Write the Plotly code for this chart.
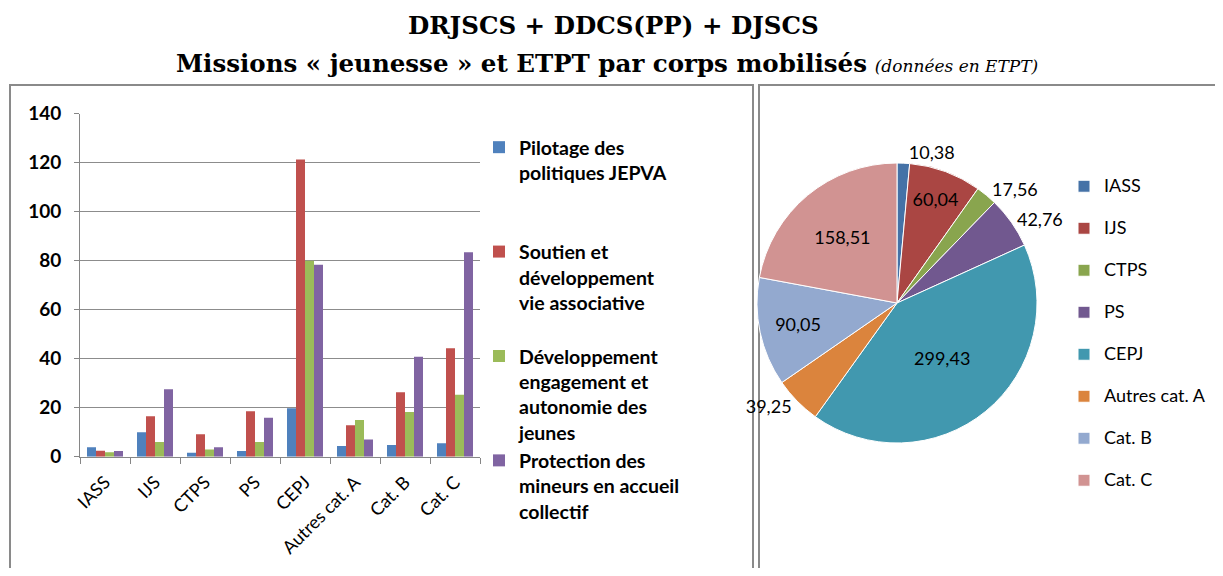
import plotly.graph_objects as go

# The page body has an 8px default margin: the figure is sized so that it
# fits the 1223x576 window without scrollbars, and positions are given in
# window pixels through px_x / px_y.
OFF = 8
W, H = 1223 - 2 * OFF, 576 - 2 * OFF

categories = ["IASS", "IJS", "CTPS", "PS", "CEPJ", "Autres cat. A", "Cat. B", "Cat. C"]
series_names = [
    "Pilotage des<br>politiques JEPVA",
    "Soutien et<br>développement<br>vie associative",
    "Développement<br>engagement et<br>autonomie des<br>jeunes",
    "Protection des<br>mineurs en accueil<br>collectif",
]
pilotage = [3.9, 10.0, 1.6, 2.3, 19.8, 4.4, 4.8, 5.5]
soutien = [2.4, 16.5, 9.2, 18.6, 121.3, 12.8, 26.3, 44.3]
developpement = [1.8, 6.0, 2.9, 6.0, 80.0, 15.0, 18.2, 25.3]
protection = [2.28, 27.54, 3.86, 15.86, 78.33, 7.05, 40.75, 83.41]
pie_values = [10.38, 60.04, 17.56, 42.76, 299.43, 39.25, 90.05, 158.51]
y_ticks = [0, 20, 40, 60, 80, 100, 120, 140]

bar_colors = ["#4F81BD", "#C0504D", "#9BBB59", "#8064A2"]
pie_colors = ["#4572A7", "#AA4643", "#89A54E", "#71588F", "#4198AF", "#DB843D", "#93A9CF", "#D19392"]
pie_textpos = ["outside", "inside", "outside", "outside", "inside", "outside", "inside", "inside"]


def px_x(v):
    return (v - OFF) / W


def px_y(v):
    return 1 - (v - OFF) / H


def border(x0, y0, x1, y1):
    return dict(type="line", xref="paper", yref="paper",
                x0=px_x(x0), y0=px_y(y0), x1=px_x(x1), y1=px_y(y1),
                line=dict(color="#8A8A8A", width=2), layer="below")


fig = go.Figure()

series = [pilotage, soutien, developpement, protection]
for i, (name, vals) in enumerate(zip(series_names, series)):
    lines = name.count("<br>") + 1
    padded = name + "<br> " * (4 - lines)
    fig.add_trace(go.Bar(
        x=categories, y=vals, name=padded,
        marker=dict(color=bar_colors[i], line=dict(width=0)),
        legend="legend",
        hoverinfo="x+y",
    ))

pie_legend_labels = ["<span style='font-size:18px'>" + c + "</span><br> " for c in categories]

fig.add_trace(go.Pie(
    labels=pie_legend_labels,
    values=pie_values,
    sort=False,
    direction="clockwise",
    rotation=0,
    marker=dict(colors=pie_colors, line=dict(color="white", width=1)),
    texttemplate="%{value:.2f}",
    textposition=pie_textpos,
    insidetextorientation="horizontal",
    textfont=dict(family="Lato", size=18, color="black"),
    domain=dict(x=[px_x(757), px_x(1037)], y=[px_y(444), px_y(162)]),
    legend="legend2",
    showlegend=True,
))

fig.update_layout(
    width=W, height=H,
    margin=dict(l=0, r=0, t=0, b=0, autoexpand=False),
    paper_bgcolor="white",
    plot_bgcolor="white",
    separators=", ",
    barmode="group",
    bargap=0.28,
    bargroupgap=0,
    font=dict(family="Lato", color="black"),
    xaxis=dict(
        domain=[px_x(80), px_x(480)],
        anchor="y",
        type="category",
        tickangle=-45,
        ticks="outside", ticklen=6, tickcolor="#868686",
        tickson="boundaries",
        showline=True, linecolor="#868686", linewidth=1,
        showgrid=False,
        ticklabelstandoff=7,
        tickfont=dict(family="Lato", size=18, color="black"),
    ),
    yaxis=dict(
        domain=[px_y(456.7), px_y(113.7)],
        anchor="x",
        range=[0, 140],
        tickvals=y_ticks,
        ticks="outside", ticklen=5, tickcolor="#868686",
        showline=True, linecolor="#868686", linewidth=1,
        showgrid=True, gridcolor="#8C8C8C", gridwidth=1,
        zeroline=False,
        ticklabelstandoff=9,
        tickfont=dict(family="Lato", size=19, color="black", weight="bold"),
    ),
    legend=dict(
        x=px_x(479), y=px_y(128), xanchor="left", yanchor="top",
        valign="top",
        font=dict(family="Lato", size=19.5, color="black", weight="bold"),
        bgcolor="rgba(0,0,0,0)",
        traceorder="normal",
    ),
    legend2=dict(
        x=px_x(1064), y=px_y(170), xanchor="left", yanchor="top",
        valign="top",
        font=dict(family="Lato", size=15, color="black"),
        bgcolor="rgba(0,0,0,0)",
    ),
    shapes=[
        border(10, 85, 753, 85),
        border(10, 84, 10, 580),
        border(753, 84, 753, 580),
        border(759, 85, 1230, 85),
        border(759, 84, 759, 580),
    ],
    annotations=[
        dict(text="<b>DRJSCS + DDCS(PP) + DJSCS</b>", xref="paper", yref="paper",
             x=px_x(613), y=px_y(25), xanchor="center", yanchor="middle",
             showarrow=False, font=dict(family="DejaVu Serif", size=24.5, color="black")),
        dict(text="<b>Missions « jeunesse » et ETPT par corps mobilisés</b> "
                  "<i><span style='font-size:17px'>(données en ETPT)</span></i>",
             xref="paper", yref="paper",
             x=px_x(607), y=px_y(64), xanchor="center", yanchor="middle",
             showarrow=False, font=dict(family="DejaVu Serif", size=24.5, color="black")),
    ],
)

fig.write_html("out.html")
